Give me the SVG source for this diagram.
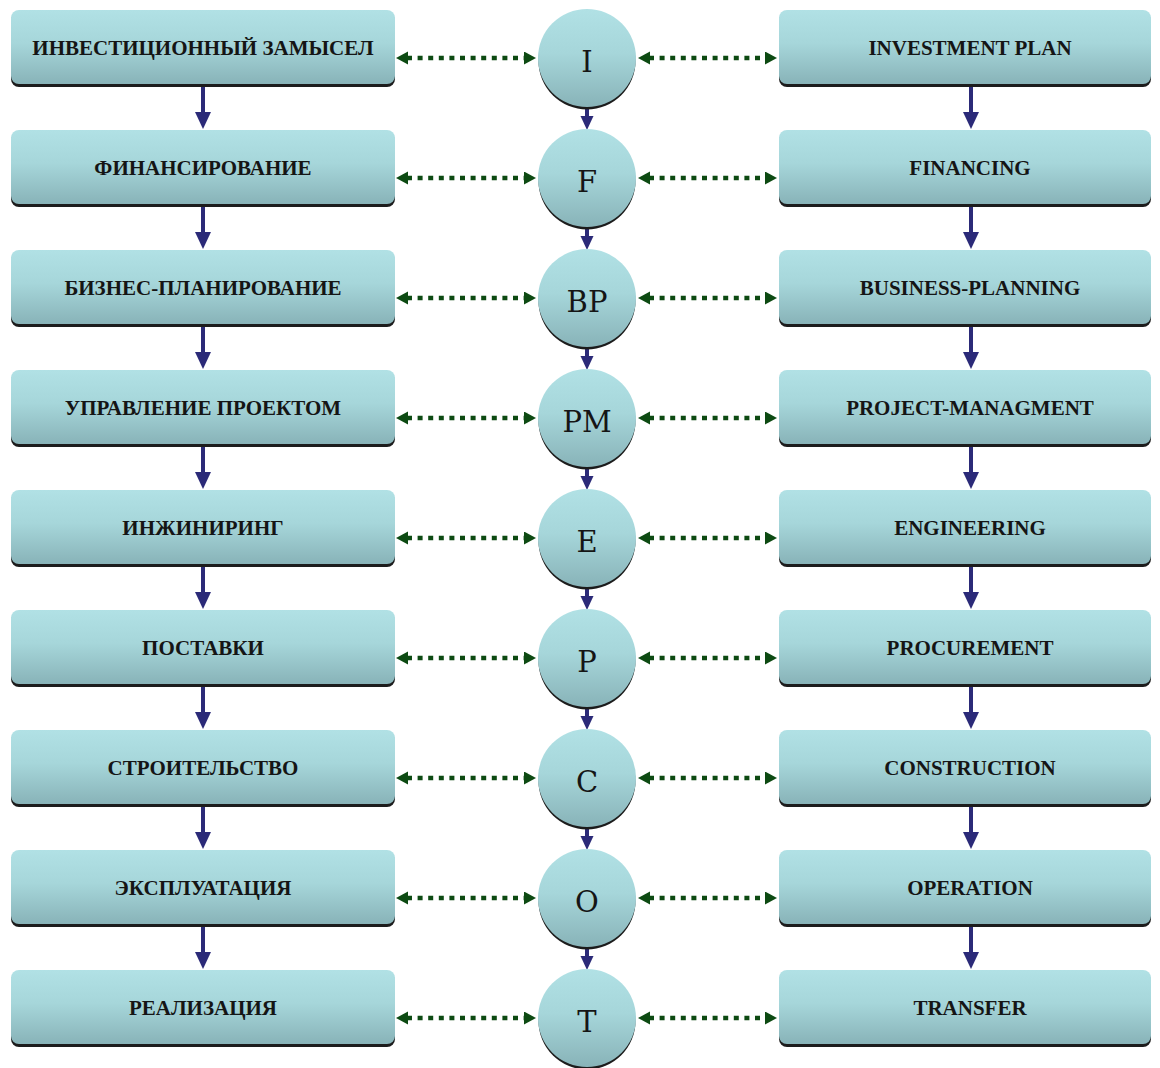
<svg xmlns="http://www.w3.org/2000/svg" width="1160" height="1068" viewBox="0 0 1160 1068">
  <style>
    .box { fill: url(#tealFill); }
    .shade { fill: #1c1c1c; }
    .lbl { font-family: "Liberation Serif", "Times New Roman", serif; font-weight: bold; font-size: 21px; fill: #151515; text-anchor: middle; }
    .code { font-family: "DejaVu Serif", "Liberation Serif", serif; font-size: 29px; fill: #151515; text-anchor: middle; }
    .flow { stroke: #2b2a78; stroke-width: 4; fill: none; }
    .flow-big { marker-end: url(#navyHead); }
    .flow-small { marker-end: url(#navyHeadSmall); }
    .link { stroke: #0d4a12; stroke-width: 4.5; stroke-dasharray: 5 5.6; fill: none; marker-start: url(#greenHead); marker-end: url(#greenHead); }
  </style>
  <defs>
    <linearGradient id="tealFill" x1="0" y1="0" x2="0" y2="1">
      <stop offset="0" stop-color="#b1e1e5"/>
      <stop offset="0.45" stop-color="#a6d6da"/>
      <stop offset="1" stop-color="#88b3b8"/>
    </linearGradient>
    <marker id="navyHead" markerUnits="userSpaceOnUse" markerWidth="18" markerHeight="18" refX="1" refY="8" orient="auto">
      <path d="M0,0 L17,8 L0,16 Z" fill="#2b2a78"/>
    </marker>
    <marker id="navyHeadSmall" markerUnits="userSpaceOnUse" markerWidth="16" markerHeight="16" refX="1" refY="6.5" orient="auto">
      <path d="M0,0 L14,6.5 L0,13 Z" fill="#2b2a78"/>
    </marker>
    <marker id="greenHead" markerUnits="userSpaceOnUse" markerWidth="14" markerHeight="14" refX="1" refY="6.5" orient="auto-start-reverse">
      <path d="M0,0 L12,6.5 L0,13 Z" fill="#0d4a12"/>
    </marker>
    <g id="leftBox">
      <rect class="shade" x="11" y="13" width="384" height="74" rx="8"/>
      <rect class="box" x="11" y="10" width="384" height="74" rx="8"/>
    </g>
    <g id="rightBox">
      <rect class="shade" x="779" y="13" width="372" height="74" rx="8"/>
      <rect class="box" x="779" y="10" width="372" height="74" rx="8"/>
    </g>
    <g id="letterDisk">
      <circle class="shade" cx="587" cy="61" r="48.5"/>
      <circle class="box" cx="587" cy="58" r="49"/>
    </g>
  </defs>

  <!-- connectors -->
  <g id="connectors">
    <!-- vertical flow, left column -->
    <path class="flow flow-big" d="M203,86 V113"/>
    <path class="flow flow-big" d="M203,206 V233"/>
    <path class="flow flow-big" d="M203,326 V353"/>
    <path class="flow flow-big" d="M203,446 V473"/>
    <path class="flow flow-big" d="M203,566 V593"/>
    <path class="flow flow-big" d="M203,686 V713"/>
    <path class="flow flow-big" d="M203,806 V833"/>
    <path class="flow flow-big" d="M203,926 V953"/>
    <!-- vertical flow, right column -->
    <path class="flow flow-big" d="M971,86 V113"/>
    <path class="flow flow-big" d="M971,206 V233"/>
    <path class="flow flow-big" d="M971,326 V353"/>
    <path class="flow flow-big" d="M971,446 V473"/>
    <path class="flow flow-big" d="M971,566 V593"/>
    <path class="flow flow-big" d="M971,686 V713"/>
    <path class="flow flow-big" d="M971,806 V833"/>
    <path class="flow flow-big" d="M971,926 V953"/>
    <!-- vertical flow, letter disks -->
    <path class="flow flow-small" d="M587,106 V117"/>
    <path class="flow flow-small" d="M587,226 V237"/>
    <path class="flow flow-small" d="M587,346 V357"/>
    <path class="flow flow-small" d="M587,466 V477"/>
    <path class="flow flow-small" d="M587,586 V597"/>
    <path class="flow flow-small" d="M587,706 V717"/>
    <path class="flow flow-small" d="M587,826 V837"/>
    <path class="flow flow-small" d="M587,946 V957"/>
    <!-- dotted two-way links -->
    <path class="link" d="M407,58 H525"/>
    <path class="link" d="M649,58 H766"/>
    <path class="link" d="M407,178 H525"/>
    <path class="link" d="M649,178 H766"/>
    <path class="link" d="M407,298 H525"/>
    <path class="link" d="M649,298 H766"/>
    <path class="link" d="M407,418 H525"/>
    <path class="link" d="M649,418 H766"/>
    <path class="link" d="M407,538 H525"/>
    <path class="link" d="M649,538 H766"/>
    <path class="link" d="M407,658 H525"/>
    <path class="link" d="M649,658 H766"/>
    <path class="link" d="M407,778 H525"/>
    <path class="link" d="M649,778 H766"/>
    <path class="link" d="M407,898 H525"/>
    <path class="link" d="M649,898 H766"/>
    <path class="link" d="M407,1018 H525"/>
    <path class="link" d="M649,1018 H766"/>
  </g>

  <!-- row 1 -->
  <g id="ru-1"><use href="#leftBox"/><text class="lbl" x="203" y="55">ИНВЕСТИЦИОННЫЙ ЗАМЫСЕЛ</text></g>
  <g id="code-1"><use href="#letterDisk"/><text class="code" x="587" y="72">I</text></g>
  <g id="en-1"><use href="#rightBox"/><text class="lbl" x="970" y="55">INVESTMENT PLAN</text></g>

  <!-- row 2 -->
  <g id="ru-2" transform="translate(0,120)"><use href="#leftBox"/><text class="lbl" x="203" y="55">ФИНАНСИРОВАНИЕ</text></g>
  <g id="code-2" transform="translate(0,120)"><use href="#letterDisk"/><text class="code" x="587" y="72">F</text></g>
  <g id="en-2" transform="translate(0,120)"><use href="#rightBox"/><text class="lbl" x="970" y="55">FINANCING</text></g>

  <!-- row 3 -->
  <g id="ru-3" transform="translate(0,240)"><use href="#leftBox"/><text class="lbl" x="203" y="55">БИЗНЕС-ПЛАНИРОВАНИЕ</text></g>
  <g id="code-3" transform="translate(0,240)"><use href="#letterDisk"/><text class="code" x="587" y="72">BP</text></g>
  <g id="en-3" transform="translate(0,240)"><use href="#rightBox"/><text class="lbl" x="970" y="55">BUSINESS-PLANNING</text></g>

  <!-- row 4 -->
  <g id="ru-4" transform="translate(0,360)"><use href="#leftBox"/><text class="lbl" x="203" y="55">УПРАВЛЕНИЕ ПРОЕКТОМ</text></g>
  <g id="code-4" transform="translate(0,360)"><use href="#letterDisk"/><text class="code" x="587" y="72">PM</text></g>
  <g id="en-4" transform="translate(0,360)"><use href="#rightBox"/><text class="lbl" x="970" y="55">PROJECT-MANAGMENT</text></g>

  <!-- row 5 -->
  <g id="ru-5" transform="translate(0,480)"><use href="#leftBox"/><text class="lbl" x="203" y="55">ИНЖИНИРИНГ</text></g>
  <g id="code-5" transform="translate(0,480)"><use href="#letterDisk"/><text class="code" x="587" y="72">E</text></g>
  <g id="en-5" transform="translate(0,480)"><use href="#rightBox"/><text class="lbl" x="970" y="55">ENGINEERING</text></g>

  <!-- row 6 -->
  <g id="ru-6" transform="translate(0,600)"><use href="#leftBox"/><text class="lbl" x="203" y="55">ПОСТАВКИ</text></g>
  <g id="code-6" transform="translate(0,600)"><use href="#letterDisk"/><text class="code" x="587" y="72">P</text></g>
  <g id="en-6" transform="translate(0,600)"><use href="#rightBox"/><text class="lbl" x="970" y="55">PROCUREMENT</text></g>

  <!-- row 7 -->
  <g id="ru-7" transform="translate(0,720)"><use href="#leftBox"/><text class="lbl" x="203" y="55">СТРОИТЕЛЬСТВО</text></g>
  <g id="code-7" transform="translate(0,720)"><use href="#letterDisk"/><text class="code" x="587" y="72">C</text></g>
  <g id="en-7" transform="translate(0,720)"><use href="#rightBox"/><text class="lbl" x="970" y="55">CONSTRUCTION</text></g>

  <!-- row 8 -->
  <g id="ru-8" transform="translate(0,840)"><use href="#leftBox"/><text class="lbl" x="203" y="55">ЭКСПЛУАТАЦИЯ</text></g>
  <g id="code-8" transform="translate(0,840)"><use href="#letterDisk"/><text class="code" x="587" y="72">O</text></g>
  <g id="en-8" transform="translate(0,840)"><use href="#rightBox"/><text class="lbl" x="970" y="55">OPERATION</text></g>

  <!-- row 9 -->
  <g id="ru-9" transform="translate(0,960)"><use href="#leftBox"/><text class="lbl" x="203" y="55">РЕАЛИЗАЦИЯ</text></g>
  <g id="code-9" transform="translate(0,960)"><use href="#letterDisk"/><text class="code" x="587" y="72">T</text></g>
  <g id="en-9" transform="translate(0,960)"><use href="#rightBox"/><text class="lbl" x="970" y="55">TRANSFER</text></g>
</svg>
